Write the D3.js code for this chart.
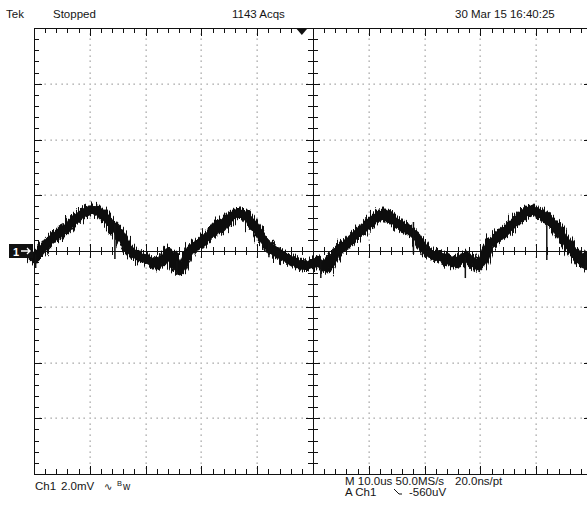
<!DOCTYPE html>
<html><head><meta charset="utf-8">
<script src="https://cdn.jsdelivr.net/npm/d3@7"></script>
<style>
html,body{margin:0;padding:0;background:#fff;}
svg{display:block;}
text{font-family:"Liberation Sans",Arial,sans-serif;fill:#151515;}
</style></head>
<body>
<svg id="c" width="587" height="506"></svg>
<script>
// ---- data (time in microseconds, voltage in mV) ----
const timeUs = [0.00,1.08,1.97,2.87,4.12,5.02,5.91,6.81,7.89,8.78,9.86,10.93,11.83,13.08,13.98,14.87,15.77,16.67,17.74,19.00,20.07,21.15,22.04,23.12,24.01,24.73,25.45,26.16,27.06,27.96,28.85,29.75,31.00,32.08,32.97,33.69,34.41,35.48,36.38,37.28,38.17,39.07,39.96,40.86,41.76,42.65,43.55,44.44,45.34,46.42,47.67,48.75,50.00,50.90,51.79,52.51,53.41,54.30,55.20,56.27,57.17,58.42,59.32,60.22,61.11,62.01,62.90,63.80,64.87,66.13,67.38,68.64,69.53,70.43,71.51,72.76,73.84,75.09,75.99,76.88,77.60,78.49,79.57,80.29,81.18,81.72,82.62,84.05,85.30,86.56,87.63,88.89,89.96,91.22,92.47,93.73,94.62,95.52,96.59,97.85,98.57,99.10];
const ch1mV = [-0.25,-0.04,0.18,0.39,0.57,0.75,0.83,1.04,1.22,1.36,1.47,1.47,1.40,1.15,0.93,0.75,0.47,0.14,-0.07,-0.22,-0.29,-0.39,-0.47,-0.39,-0.04,-0.18,-0.54,-0.68,-0.32,0.04,0.18,0.29,0.50,0.68,0.97,0.83,1.04,1.26,1.36,1.33,1.22,1.00,0.75,0.47,0.25,0.04,-0.07,-0.18,-0.25,-0.36,-0.50,-0.54,-0.43,-0.39,-0.54,-0.61,-0.32,-0.04,0.14,0.29,0.50,0.72,0.86,1.00,1.18,1.29,1.33,1.18,1.04,0.86,0.72,0.50,0.22,-0.04,-0.14,-0.18,-0.29,-0.43,-0.39,-0.22,-0.18,-0.39,-0.54,-0.39,0.04,0.29,0.39,0.65,0.86,1.11,1.33,1.47,1.40,1.29,1.08,0.86,0.54,0.29,0.00,-0.32,-0.47,-0.18];
// short vertical noise spikes
const spikeT    = [0.3, 14.5, 25.6, 42.1, 51.4, 68.0, 77.3, 91.9, 98.8];
const spikeLo   = [-0.61, -0.29, -0.86, -0.22, -0.97, -0.11, -0.97, -0.32, -0.68];
const spikeHi   = [-0.11, 1.00, -0.36, 0.39, -0.36, 1.04, -0.22, 1.00, -0.22];
const headerLabels = ["Tek", "Stopped", "1143 Acqs", "30 Mar 15 16:40:25"];
const footerLabels = ["Ch1", "2.0mV", "M 10.0us 50.0MS/s", "20.0ns/pt", "A Ch1", "-560uV"];
const triggerLevelmV = -0.56;
const divisionsX = 10, divisionsY = 8;

// ---- scales ----
const svg = d3.select("#c");
const x = d3.scaleLinear().domain([0, 100]).range([34, 592]);
const y = d3.scaleLinear().domain([-8, 8]).range([474, 28]);

// noise texture filter for the trace (visual style only)
const defs = svg.append("defs");
const f = defs.append("filter").attr("id", "fuzz").attr("x", "-5%").attr("y", "-30%").attr("width", "110%").attr("height", "160%");
f.append("feTurbulence").attr("type", "fractalNoise").attr("baseFrequency", "0.9 0.04").attr("numOctaves", 2).attr("seed", 3).attr("result", "n");
f.append("feDisplacementMap").attr("in", "SourceGraphic").attr("in2", "n").attr("scale", 13).attr("xChannelSelector", "B").attr("yChannelSelector", "R");

// ---- graticule dots ----
const g = svg.append("g");
const dots = [];
for (let i = 1; i < divisionsX; i++) {
  if (i === 5) continue;
  for (let k = 1; k < divisionsY * 10; k++) {
    if (k % 10 === 0) continue;
    dots.push([x(i * 10), y(-8 + k * 0.2)]);
  }
}
for (let j = 1; j < divisionsY; j++) {
  if (j === 4) continue;
  for (let k = 1; k < divisionsX * 10; k++) {
    dots.push([x(k), y(-8 + j * 2)]);
  }
}
g.selectAll("rect.d").data(dots).join("rect").attr("class", "d")
  .attr("x", d => Math.round(d[0]) - 0.5).attr("y", d => Math.round(d[1]) - 0.5)
  .attr("width", 1.3).attr("height", 1.3).attr("fill", "#999");

// ---- border and ticks ----
const ax = svg.append("g").attr("stroke", "#111").attr("stroke-width", 1).attr("shape-rendering", "crispEdges");
ax.append("rect").attr("x", x(0)).attr("y", y(8)).attr("width", x(100) - x(0)).attr("height", y(-8) - y(8)).attr("fill", "none");
ax.append("line").attr("x1", x(0)).attr("x2", x(100)).attr("y1", y(0)).attr("y2", y(0));
ax.append("line").attr("x1", x(50)).attr("x2", x(50)).attr("y1", y(8)).attr("y2", y(-8));
for (let k = 1; k < divisionsX * 5; k++) {
  const t = k * 2, major = k % 5 === 0, xx = Math.round(x(t)) + 0.5;
  const L = major ? 8 : 5;
  ax.append("line").attr("x1", xx).attr("x2", xx).attr("y1", y(8)).attr("y2", y(8) + L);
  ax.append("line").attr("x1", xx).attr("x2", xx).attr("y1", y(-8)).attr("y2", y(-8) - L);
  if (k !== 25) ax.append("line").attr("x1", xx).attr("x2", xx).attr("y1", y(0) - (major ? 7 : 4)).attr("y2", y(0) + (major ? 7 : 4));
}
for (let k = 1; k < divisionsY * 5; k++) {
  const v = -8 + k * 0.4, major = k % 5 === 0, yy = Math.round(y(v)) + 0.5;
  const L = major ? 8 : 5;
  ax.append("line").attr("x1", x(0)).attr("x2", x(0) + L).attr("y1", yy).attr("y2", yy);
  ax.append("line").attr("x1", x(100)).attr("x2", x(100) - L).attr("y1", yy).attr("y2", yy);
  if (k !== 20) ax.append("line").attr("x1", x(50) - (major ? 7 : 5)).attr("x2", x(50) + (major ? 7 : 5)).attr("y1", yy).attr("y2", yy);
}

// ---- trace ----
const pts = timeUs.map((t, i) => [t, ch1mV[i]]);
const line = d3.line().x(d => x(d[0])).y(d => y(d[1]));
const tr = svg.append("g");
tr.append("path").datum(pts).attr("d", line).attr("fill", "none")
  .attr("stroke", "#111").attr("stroke-width", 8).attr("stroke-linejoin", "round").attr("stroke-linecap", "round");
tr.append("path").datum(pts).attr("d", line).attr("fill", "none").attr("filter", "url(#fuzz)")
  .attr("stroke", "#111").attr("stroke-width", 11).attr("stroke-linejoin", "round").attr("stroke-linecap", "round");
tr.append("g").selectAll("line").data(spikeT).join("line")
  .attr("x1", d => x(d)).attr("x2", d => x(d))
  .attr("y1", (d, i) => y(spikeLo[i])).attr("y2", (d, i) => y(spikeHi[i]))
  .attr("stroke", "#111").attr("stroke-width", 1.5);

// ---- markers ----
svg.append("rect").attr("x", 9).attr("y", y(0) - 7).attr("width", 24).attr("height", 14).attr("fill", "#111");
svg.append("text").attr("x", 13).attr("y", y(0) + 4.5).attr("font-size", 11).attr("font-weight", "bold").style("fill", "#fff").text("1");
svg.append("path").attr("d", `M21,${y(0)} H30 M27,${y(0) - 3} L30,${y(0)} L27,${y(0) + 3}`).attr("stroke", "#fff").attr("stroke-width", 1.3).attr("fill", "none");
svg.append("path").attr("d", `M${x(48) - 6},${y(8)} L${x(48) + 6},${y(8)} L${x(48)},${y(8) + 7} Z`).attr("fill", "#111");
svg.append("line").attr("x1", 581).attr("x2", 592).attr("y1", y(triggerLevelmV)).attr("y2", y(triggerLevelmV)).attr("stroke", "#111").attr("stroke-width", 2);

// ---- text ----
const fs = 11.5;
const T = (s, xx, yy) => svg.append("text").attr("x", xx).attr("y", yy).attr("font-size", fs).text(s);
T(headerLabels[0], 6, 18);
T(headerLabels[1], 53, 18);
T(headerLabels[2], 232, 18);
T(headerLabels[3], 455, 18);
T(footerLabels[0], 35, 490);
T(footerLabels[1], 61, 490);
svg.append("text").attr("x", 104).attr("y", 490).attr("font-size", 10).style("font-family", "DejaVu Sans").text("\u223F");
svg.append("text").attr("x", 117).attr("y", 486).attr("font-size", 7.5).text("B");
svg.append("text").attr("x", 123).attr("y", 490).attr("font-size", 10).text("w");
T(footerLabels[2], 345, 485);
T(footerLabels[3], 455, 485);
T(footerLabels[4], 345, 496);
svg.append("path").attr("d", "M394,489 L399,494 L402,494").attr("stroke", "#111").attr("fill", "none").attr("stroke-width", 1);
T(footerLabels[5], 409, 496);
</script>
</body></html>
